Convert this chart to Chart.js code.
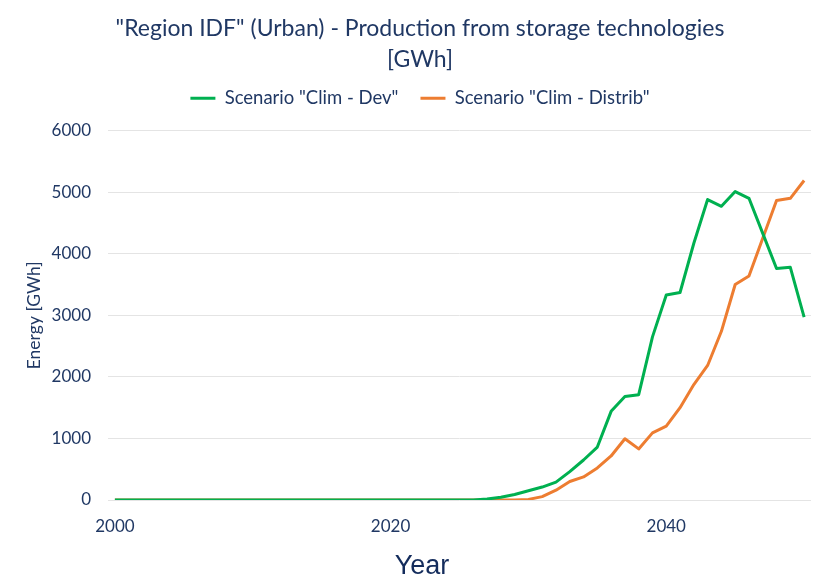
<!DOCTYPE html>
<html>
<head>
<meta charset="utf-8">
<script src="https://cdn.jsdelivr.net/npm/chart.js@4/dist/chart.umd.min.js"></script>
<style>
  html, body { margin: 0; padding: 0; background: #fff; }
  #wrap { width: 823px; height: 582px; }
</style>
</head>
<body>
<div id="wrap"><canvas id="myChart" width="823" height="582"></canvas></div>
<script>
const years = [];
for (let y = 2000; y <= 2050; y++) years.push(y);

// 2000-2025 are all zero, values below start in 2026
const zeros = new Array(26).fill(0);
const climDev = zeros.concat([
  0, 15, 45, 90, 150, 210, 290, 460, 650, 860,
  1440, 1680, 1710, 2650, 3330, 3370, 4170, 4880, 4770, 5010,
  4900, 4330, 3760, 3780, 2970
]);
const climDistrib = zeros.concat([
  0, 0, 0, 0, 10, 55, 160, 300, 375, 520,
  715, 995, 830, 1090, 1200, 1500, 1875, 2185, 2740, 3500,
  3640, 4250, 4865, 4900, 5190
]);
const yTicks = [0, 1000, 2000, 3000, 4000, 5000, 6000];
const xLabelYears = [2000, 2020, 2040];

const navy = "#203864";
const font = "Lato, 'Noto Sans', sans-serif";

// "Year" caption sits under the axis, a little left of the plot centre
const yearCaption = {
  id: "yearCaption",
  afterDraw(chart) {
    const c = chart.ctx;
    c.save();
    c.fillStyle = "#142c5c";
    c.font = "27px 'Liberation Sans', Arial, sans-serif";
    c.textAlign = "center";
    c.textBaseline = "alphabetic";
    c.fillText("Year", 422, 574);
    c.restore();
  },
};

const ctx = document.getElementById("myChart");

new Chart(ctx, {
  type: "line",
  data: {
    labels: years,
    datasets: [
      {
        label: 'Scenario "Clim - Dev"',
        data: climDev,
        xAxisID: "x",
        yAxisID: "y",
        borderColor: "#00B050",
        backgroundColor: "#00B050",
        borderWidth: 3,
        pointRadius: 0,
        borderJoinStyle: "round",
      },
      {
        label: 'Scenario "Clim - Distrib"',
        data: climDistrib,
        xAxisID: "x",
        yAxisID: "y",
        borderColor: "#ED7D31",
        backgroundColor: "#ED7D31",
        borderWidth: 3,
        pointRadius: 0,
        borderJoinStyle: "round",
      },
    ],
  },
  plugins: [yearCaption],
  options: {
    responsive: false,
    animation: false,
    layout: { padding: { left: 29, right: 12, top: 0, bottom: 0 } },
    plugins: {
      title: {
        display: true,
        text: ['"Region IDF" (Urban) - Production from storage technologies', "[GWh]"],
        color: navy,
        font: { family: font, size: 23, weight: "normal", lineHeight: 1.35 },
        padding: { top: 13, bottom: -8 },
      },
      legend: {
        labels: {
          color: navy,
          font: { family: font, size: 18.5 },
          boxWidth: 25,
          boxHeight: 3,
          padding: 22,
          generateLabels(chart) {
            return chart.data.datasets.map((ds, i) => ({
              text: ds.label,
              fillStyle: ds.borderColor,
              strokeStyle: ds.borderColor,
              lineWidth: 0,
              fontColor: navy,
              datasetIndex: i,
            }));
          },
        },
      },
      tooltip: { enabled: false },
    },
    scales: {
      // empty strip between the legend and the plot
      gap: {
        type: "linear",
        axis: "x",
        position: "top",
        grid: { display: false },
        border: { display: false },
        ticks: { display: false },
        afterFit(scale) { scale.height = 13; },
      },
      x: {
        type: "category",
        offset: true,
        grid: { display: false },
        border: { display: false },
        ticks: {
          autoSkip: false,
          maxRotation: 0,
          color: navy,
          font: { family: font, size: 17 },
          padding: 8,
          callback: (v, i) => (xLabelYears.includes(years[i]) ? String(years[i]) : null),
        },
        afterFit(scale) { scale.height = 82; },
      },
      y: {
        min: 0,
        max: 6000,
        afterBuildTicks(scale) { scale.ticks = yTicks.map(v => ({ value: v })); },
        grid: { color: "#e4e4e4", lineWidth: 1, drawTicks: false },
        border: { display: false },
        ticks: {
          color: navy,
          font: { family: font, size: 17 },
          padding: 17,
          callback: v => String(v),
        },
        title: {
          display: true,
          text: "Energy [GWh]",
          color: navy,
          font: { family: font, size: 17.5 },
          padding: { top: -5, bottom: 0 },
        },
        afterFit(scale) { scale.width = 79; },
      },
    },
  },
});
</script>
</body>
</html>
